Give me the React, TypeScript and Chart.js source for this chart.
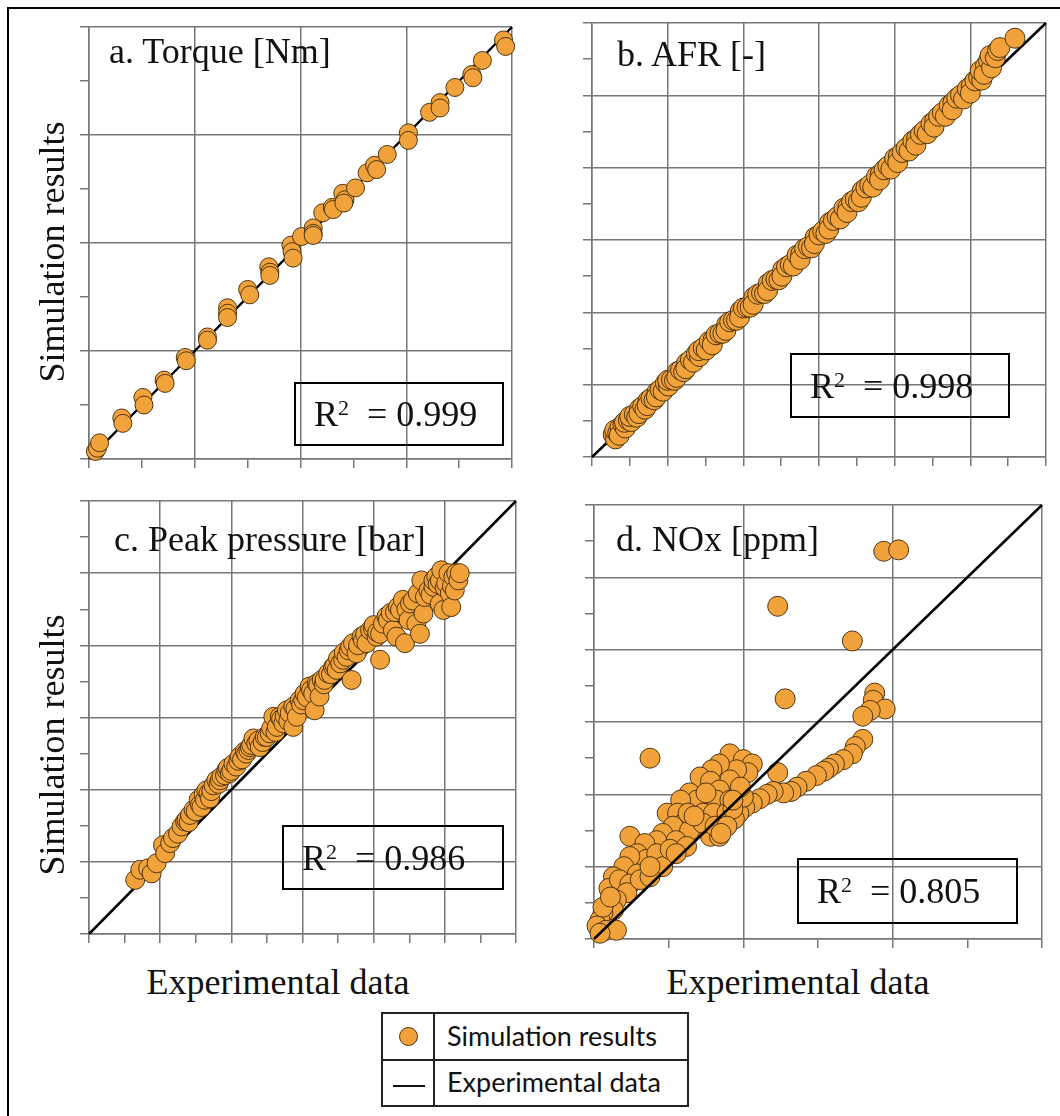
import React, { useEffect, useRef } from "react";
import { Chart, registerables } from "chart.js";

Chart.register(...registerables);

// ---------------- data (experimental value, simulated value) ----------------
const torqueData: number[][] = [
  [0.06, 0.07], [0.08, 0.10], [0.10, 0.15], [0.31, 0.38], [0.32, 0.33], [0.51, 0.57], [0.52, 0.50],
  [0.71, 0.73], [0.72, 0.70], [0.91, 0.94], [0.92, 0.91], [1.12, 1.13], [1.12, 1.10],
  [1.31, 1.40], [1.31, 1.35], [1.31, 1.31], [1.50, 1.57], [1.52, 1.52], [1.70, 1.78],
  [1.71, 1.73], [1.71, 1.70], [1.91, 1.98], [1.92, 1.92], [1.93, 1.86], [2.01, 2.06],
  [2.12, 2.14], [2.12, 2.09], [2.12, 2.07], [2.21, 2.28], [2.30, 2.33], [2.31, 2.31],
  [2.40, 2.46], [2.42, 2.40], [2.41, 2.37], [2.52, 2.51], [2.63, 2.65], [2.70, 2.72],
  [2.72, 2.68], [2.82, 2.82], [3.02, 3.02], [3.02, 2.95], [3.22, 3.21], [3.32, 3.30],
  [3.32, 3.25], [3.46, 3.44], [3.62, 3.56], [3.63, 3.53], [3.72, 3.69], [3.92, 3.88], [3.94, 3.82],
];

const afrData: number[][] = [
  [0.28, 0.31], [0.31, 0.25], [0.30, 0.37], [0.34, 0.33], [0.37, 0.41], [0.36, 0.30], [0.41, 0.45],
  [0.44, 0.40], [0.43, 0.48], [0.48, 0.51], [0.52, 0.49], [0.50, 0.56], [0.56, 0.59], [0.59, 0.55],
  [0.63, 0.67], [0.62, 0.60], [0.67, 0.70], [0.70, 0.66], [0.74, 0.78], [0.73, 0.71], [0.78, 0.81],
  [0.82, 0.79], [0.86, 0.90], [0.85, 0.83], [0.90, 0.93], [0.94, 0.91], [0.97, 1.02], [1.01, 0.98],
  [1.00, 1.06], [1.05, 1.07], [1.09, 1.06], [1.13, 1.18], [1.12, 1.10], [1.17, 1.20], [1.21, 1.18],
  [1.25, 1.30], [1.24, 1.22], [1.30, 1.34], [1.34, 1.31], [1.38, 1.43], [1.42, 1.39], [1.41, 1.47],
  [1.47, 1.51], [1.51, 1.48], [1.55, 1.60], [1.60, 1.62], [1.59, 1.55], [1.64, 1.69], [1.69, 1.71],
  [1.73, 1.71], [1.78, 1.83], [1.77, 1.75], [1.82, 1.87], [1.87, 1.89], [1.91, 1.89], [1.96, 2.02],
  [1.95, 1.93], [2.00, 2.06], [2.05, 2.07], [2.09, 2.07], [2.14, 2.21], [2.13, 2.11], [2.19, 2.25],
  [2.24, 2.27], [2.28, 2.26], [2.33, 2.40], [2.32, 2.30], [2.38, 2.44], [2.43, 2.46], [2.47, 2.45],
  [2.52, 2.59], [2.51, 2.50], [2.57, 2.63], [2.62, 2.66], [2.66, 2.64], [2.71, 2.79], [2.76, 2.81],
  [2.75, 2.73], [2.81, 2.88], [2.86, 2.91], [2.90, 2.89], [2.95, 3.04], [2.94, 2.95], [3.00, 3.07],
  [3.05, 3.12], [3.09, 3.09], [3.14, 3.24], [3.13, 3.15], [3.19, 3.27], [3.24, 3.32], [3.28, 3.29],
  [3.33, 3.44], [3.38, 3.45], [3.37, 3.38], [3.43, 3.53], [3.48, 3.56], [3.52, 3.53], [3.57, 3.68],
  [3.56, 3.59], [3.62, 3.72], [3.67, 3.76], [3.71, 3.73], [3.76, 3.88], [3.81, 3.91], [3.80, 3.83],
  [3.86, 3.97], [3.91, 4.02], [3.95, 3.98], [4.00, 4.13], [4.05, 4.16], [4.04, 4.07], [4.10, 4.21],
  [4.15, 4.27], [4.19, 4.23], [4.24, 4.37], [4.29, 4.40], [4.28, 4.31], [4.34, 4.46], [4.39, 4.51],
  [4.43, 4.47], [4.48, 4.61], [4.53, 4.65], [4.52, 4.56], [4.58, 4.71], [4.63, 4.76], [4.67, 4.71],
  [4.72, 4.86], [4.77, 4.90], [4.76, 4.80], [4.82, 4.96], [4.87, 5.00], [4.91, 4.95], [4.96, 5.09],
  [5.01, 5.13], [5.00, 5.03], [5.06, 5.20], [5.11, 5.25], [5.15, 5.21], [5.13, 5.34], [5.20, 5.41],
  [5.18, 5.29], [5.24, 5.48], [5.28, 5.38], [5.26, 5.55], [5.33, 5.52], [5.36, 5.62], [5.39, 5.66],
  [5.59, 5.79],
];

const pressureData: number[][] = [
  [0.65, 0.75], [0.72, 0.89], [0.83, 0.91], [0.88, 0.84], [0.95, 0.98], [1.04, 1.23], [1.07, 1.12],
  [1.14, 1.26], [1.18, 1.33], [1.25, 1.39], [1.30, 1.49], [1.35, 1.56], [1.37, 1.58], [1.40, 1.55],
  [1.42, 1.65], [1.47, 1.72], [1.50, 1.70], [1.54, 1.86], [1.56, 1.79], [1.58, 1.76], [1.61, 1.93],
  [1.63, 1.86], [1.65, 1.99], [1.68, 1.95], [1.70, 1.88], [1.72, 1.98], [1.75, 2.06], [1.79, 2.13],
  [1.82, 2.08], [1.84, 2.13], [1.86, 2.18], [1.91, 2.20], [1.93, 2.27], [1.95, 2.30], [1.98, 2.23],
  [2.00, 2.26], [2.03, 2.36], [2.07, 2.32], [2.10, 2.40], [2.12, 2.46], [2.15, 2.42], [2.19, 2.53],
  [2.21, 2.50], [2.24, 2.55], [2.26, 2.59], [2.28, 2.62], [2.31, 2.71], [2.35, 2.64], [2.38, 2.68],
  [2.40, 2.59], [2.44, 2.66], [2.47, 2.73], [2.50, 2.73], [2.54, 2.78], [2.56, 2.85], [2.59, 3.01],
  [2.62, 2.80], [2.64, 2.87], [2.68, 3.01], [2.70, 2.98], [2.73, 2.92], [2.75, 3.02], [2.78, 3.10],
  [2.80, 2.95], [2.82, 3.06], [2.87, 2.87], [2.87, 3.15], [2.90, 3.12], [2.92, 3.01], [2.96, 3.24],
  [2.98, 3.18], [3.01, 3.24], [3.03, 3.33], [3.06, 3.28], [3.10, 3.43], [3.12, 3.38], [3.15, 3.33],
  [3.17, 3.10], [3.20, 3.47], [3.22, 3.45], [3.24, 3.29], [3.27, 3.52], [3.30, 3.46], [3.31, 3.52],
  [3.36, 3.61], [3.40, 3.60], [3.43, 3.70], [3.45, 3.72], [3.48, 3.66], [3.50, 3.82], [3.53, 3.75],
  [3.57, 3.80], [3.58, 3.90], [3.62, 3.84], [3.65, 3.93], [3.67, 3.98], [3.69, 3.52], [3.71, 4.03],
  [3.76, 3.89], [3.78, 4.00], [3.83, 4.12], [3.85, 4.07], [3.88, 4.15], [3.90, 4.03], [3.95, 4.21],
  [3.99, 4.23], [4.00, 4.28], [4.04, 4.12], [4.05, 4.18], [4.09, 3.80], [4.09, 4.16], [4.13, 4.30],
  [4.18, 4.40], [4.20, 4.35], [4.24, 4.45], [4.27, 4.21], [4.30, 4.46], [4.32, 4.12], [4.34, 4.53],
  [4.37, 4.49], [4.41, 4.63], [4.44, 4.03], [4.46, 4.50], [4.49, 4.35], [4.51, 4.58], [4.55, 4.62],
  [4.60, 4.30], [4.62, 4.72], [4.65, 4.16], [4.67, 4.90], [4.70, 4.44], [4.72, 4.67], [4.77, 4.76],
  [4.80, 4.70], [4.84, 4.81], [4.84, 4.90], [4.88, 4.95], [4.90, 4.85], [4.93, 4.58], [4.93, 4.90],
  [4.95, 5.04], [4.98, 4.49], [5.00, 4.80], [5.02, 4.86], [5.05, 5.00], [5.07, 4.72], [5.09, 4.53],
  [5.10, 4.82], [5.12, 4.95], [5.14, 4.76], [5.16, 5.00], [5.19, 4.90], [5.21, 5.00],
];

const noxData: number[][] = [
  [1.94, 2.68], [2.04, 2.69], [1.23, 2.30], [1.73, 2.06], [1.28, 1.66], [1.88, 1.70], [1.87, 1.65],
  [1.95, 1.59], [1.85, 1.58], [1.80, 1.54], [0.375, 1.25], [0.24, 0.71],
  [1.80, 1.38], [1.75, 1.33], [1.73, 1.28], [1.67, 1.24], [1.61, 1.21], [1.57, 1.18], [1.54, 1.16],
  [1.49, 1.13], [1.42, 1.09], [1.36, 1.05], [1.32, 1.02], [1.27, 1.01], [1.23, 1.15], [1.20, 1.02],
  [1.16, 1.00], [1.11, 0.97], [1.06, 0.94], [1.01, 0.91], [0.97, 0.87], [0.94, 0.83], [1.00, 0.98],
  [0.91, 1.28], [1.00, 1.24], [1.06, 1.21], [1.03, 1.15], [0.955, 1.17], [0.84, 1.21], [0.79, 1.17],
  [0.71, 1.12], [0.64, 1.01], [0.78, 1.09], [0.91, 1.10], [0.84, 1.03], [0.98, 1.05], [0.82, 0.96],
  [0.91, 0.96], [0.69, 0.96], [0.58, 0.96], [0.49, 0.87], [0.56, 0.87], [0.60, 0.80], [0.73, 0.87],
  [0.69, 0.78], [0.80, 0.87], [0.53, 0.78], [0.64, 0.75], [0.78, 0.71], [0.84, 0.71], [0.73, 0.80],
  [0.63, 0.87], [0.46, 0.73], [0.42, 0.68], [0.55, 0.68], [0.34, 0.66], [0.29, 0.59], [0.35, 0.55],
  [0.42, 0.59], [0.46, 0.50], [0.51, 0.62], [0.62, 0.64], [0.24, 0.57], [0.20, 0.50], [0.13, 0.43],
  [0.10, 0.35], [0.17, 0.41], [0.29, 0.45], [0.24, 0.38], [0.22, 0.32], [0.15, 0.27], [0.13, 0.20],
  [0.06, 0.18], [0.04, 0.13], [0.02, 0.09], [0.08, 0.06], [0.15, 0.06], [0.06, 0.22], [0.31, 0.41],
  [0.375, 0.43], [0.11, 0.29], [0.04, 0.04], [0.375, 0.50], [0.81, 0.78], [0.89, 0.87], [0.93, 0.90],
  [0.89, 0.78], [0.85, 0.73], [0.93, 0.96], [0.75, 1.01], [0.67, 0.85], [0.55, 0.59],
];

const panelTitles = ["a. Torque [Nm]", "b. AFR [-]", "c. Peak pressure [bar]", "d. NOx [ppm]"];
const r2Values = ["0.999", "0.998", "0.986", "0.805"];
const yAxisTitle = "Simulation results";
const xAxisTitle = "Experimental data";
const legendLabels = ["Simulation results", "Experimental data"];

// ---------------- styling / layout ----------------
const ORANGE = "#F2A23A";
const EDGE = "#4e3510";
const GRID = "#777777";
const SERIF = '"Liberation Serif", "Times New Roman", serif';
const SANS = 'Lato, "Open Sans", sans-serif';

type Spec = {
  data: number[][];
  xMax: number;
  yMax: number;
  xStep: number;
  yStep: number;
  rect: [number, number, number, number];
  r: number;
  lineOnTop: boolean;
};

const specs: Spec[] = [
  { data: torqueData, xMax: 4, yMax: 4, xStep: 1, yStep: 1, rect: [89, 27, 423, 432], r: 9, lineOnTop: false },
  { data: afrData, xMax: 6, yMax: 6, xStep: 1, yStep: 1, rect: [592, 23, 454, 434], r: 10, lineOnTop: false },
  { data: pressureData, xMax: 6, yMax: 6, xStep: 1, yStep: 1, rect: [89, 501, 427, 433], r: 9.5, lineOnTop: false },
  { data: noxData, xMax: 3, yMax: 3, xStep: 1, yStep: 0.5, rect: [594, 505, 448, 434], r: 10, lineOnTop: true },
];

const PAD = 12;
const TL = 9;

function Panel({ spec }: { spec: Spec }) {
  const ref = useRef<HTMLCanvasElement | null>(null);
  const [L, T, W, H] = spec.rect;
  const cw = W + PAD * 2 + TL;
  const ch = H + PAD * 2 + TL;

  useEffect(() => {
    const canvas = ref.current;
    if (!canvas) return;
    const gridColor = (c: any) => (c.index % 2 === 0 ? GRID : "rgba(0,0,0,0)");
    const axis = (max: number, step: number) => ({
      type: "linear" as const,
      min: 0,
      max,
      ticks: { display: false, stepSize: step / 2 },
      grid: { color: gridColor, lineWidth: 1.5, tickColor: GRID, tickLength: TL, drawTicks: true },
      border: { display: true, color: GRID, width: 1.5 },
    });
    const lineEnd = Math.min(spec.xMax, spec.yMax);
    const chart = new Chart(canvas, {
      type: "scatter",
      data: {
        datasets: [
          {
            type: "scatter",
            label: legendLabels[0],
            data: spec.data.map((d) => ({ x: d[0], y: d[1] })),
            pointRadius: spec.r,
            pointBackgroundColor: ORANGE,
            pointBorderColor: EDGE,
            pointBorderWidth: 1,
            order: 1,
            clip: false,
          } as any,
          {
            type: "line",
            label: legendLabels[1],
            data: [
              { x: 0, y: 0 },
              { x: lineEnd, y: lineEnd },
            ],
            borderColor: "#000000",
            borderWidth: 2.5,
            pointRadius: 0,
            fill: false,
            order: spec.lineOnTop ? 0 : 2,
            clip: false,
          } as any,
        ],
      },
      options: {
        responsive: false,
        maintainAspectRatio: false,
        animation: false,
        events: [],
        layout: { autoPadding: false, padding: { left: PAD, top: PAD, right: PAD, bottom: PAD } },
        plugins: { legend: { display: false }, tooltip: { enabled: false }, title: { display: false } },
        scales: {
          x: axis(spec.xMax, spec.xStep),
          y: axis(spec.yMax, spec.yStep),
        },
      } as any,
    });
    return () => chart.destroy();
  }, [spec]);

  return (
    <canvas
      ref={ref}
      width={cw}
      height={ch}
      style={{ position: "absolute", left: L - PAD - TL, top: T - PAD, width: cw, height: ch }}
    />
  );
}

const titlePos: [number, number][] = [
  [109, 33],
  [617, 36],
  [114, 521],
  [616, 521],
];
const boxPos: [number, number, number, number][] = [
  [294, 382, 210, 64],
  [790, 353, 220, 65],
  [282, 825, 222, 65],
  [797, 858, 221, 66],
];

export default function App() {
  const serifText: React.CSSProperties = {
    position: "absolute",
    fontFamily: SERIF,
    fontSize: 36,
    lineHeight: "36px",
    color: "#111",
    whiteSpace: "nowrap",
  };
  return (
    <div style={{ position: "absolute", left: 0, top: 0, width: 1060, height: 1116, background: "#fff", overflow: "hidden" }}>
      {/* frame */}
      <div style={{ position: "absolute", left: 7, top: 7, width: 2, height: 1109, background: "#000" }} />
      <div style={{ position: "absolute", left: 7, top: 7, width: 1053, height: 2, background: "#000" }} />

      {specs.map((s, i) => (
        <Panel key={i} spec={s} />
      ))}

      {panelTitles.map((t, i) => (
        <div key={"t" + i} style={{ ...serifText, left: titlePos[i][0], top: titlePos[i][1] }}>
          {t}
        </div>
      ))}

      {r2Values.map((v, i) => {
        const [x, y, w, h] = boxPos[i];
        return (
          <div
            key={"b" + i}
            style={{
              position: "absolute",
              left: x,
              top: y,
              width: w,
              height: h,
              border: "2px solid #000",
              boxSizing: "border-box",
              display: "flex",
              alignItems: "center",
              paddingLeft: 18,
            }}
          >
            <span style={{ fontFamily: SERIF, fontSize: 36, lineHeight: "36px", color: "#111", whiteSpace: "nowrap" }}>
              R<span style={{ fontSize: 22, verticalAlign: 11, lineHeight: 0 }}>2</span>
              {"\u00a0\u00a0= " + v}
            </span>
          </div>
        );
      })}

      {[252, 745].map((cy, i) => (
        <div
          key={"y" + i}
          style={{ ...serifText, left: 52, top: cy, transform: "translate(-50%, -50%) rotate(-90deg)" }}
        >
          {yAxisTitle}
        </div>
      ))}

      {[278, 798].map((cx, i) => (
        <div key={"x" + i} style={{ ...serifText, left: cx, top: 964, transform: "translateX(-50%)" }}>
          {xAxisTitle}
        </div>
      ))}

      {/* legend table */}
      <div style={{ position: "absolute", left: 381, top: 1012, width: 308, height: 95, border: "2px solid #222", boxSizing: "border-box" }} />
      <div style={{ position: "absolute", left: 433, top: 1012, width: 2, height: 95, background: "#222" }} />
      <div style={{ position: "absolute", left: 381, top: 1059, width: 308, height: 2, background: "#222" }} />
      <div
        style={{
          position: "absolute",
          left: 399,
          top: 1027,
          width: 19,
          height: 19,
          borderRadius: "50%",
          background: ORANGE,
          border: "1px solid " + EDGE,
          boxSizing: "border-box",
        }}
      />
      <div style={{ position: "absolute", left: 393, top: 1085, width: 32, height: 2, background: "#111" }} />
      {legendLabels.map((t, i) => (
        <div
          key={"l" + i}
          style={{
            position: "absolute",
            left: 447,
            top: i === 0 ? 1022 : 1068,
            fontFamily: SANS,
            fontSize: 27,
            lineHeight: "27px",
            color: "#111",
            whiteSpace: "nowrap",
          }}
        >
          {t}
        </div>
      ))}
    </div>
  );
}
